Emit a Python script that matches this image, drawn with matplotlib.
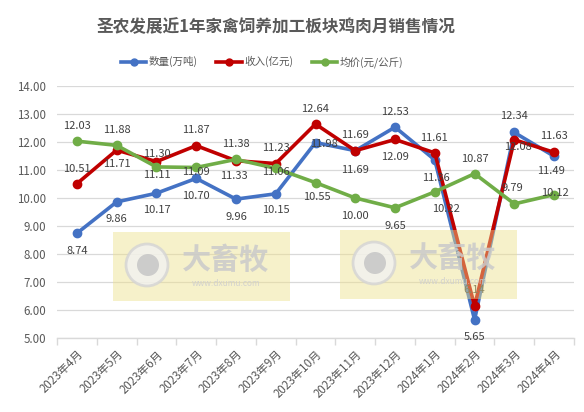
import matplotlib
matplotlib.use("Agg")
import matplotlib.pyplot as plt
from matplotlib.patches import Rectangle, Circle
from matplotlib.lines import Line2D

plt.rcParams['font.family'] = ['Noto Sans CJK SC', 'DejaVu Sans']

months = ["2023年4月", "2023年5月", "2023年6月", "2023年7月", "2023年8月", "2023年9月",
          "2023年10月", "2023年11月", "2023年12月", "2024年1月", "2024年2月", "2024年3月", "2024年4月"]
qty = [8.74, 9.86, 10.17, 10.70, 9.96, 10.15, 11.98, 11.69, 12.53, 11.36, 5.65, 12.34, 11.49]
revenue = [10.51, 11.71, 11.30, 11.87, 11.33, 11.23, 12.64, 11.69, 12.09, 11.61, 6.14, 12.08, 11.63]
price = [12.03, 11.88, 11.11, 11.09, 11.38, 11.06, 10.55, 10.00, 9.65, 10.22, 10.87, 9.79, 10.12]
names = ["数量(万吨)", "收入(亿元)", "均价(元/公斤)"]
colors = ["#4472C4", "#C00000", "#70AD47"]

# label offsets in pixels (dx, dy; dy positive = downward)
qty_off = [(0, 18), (0, 17), (0, 17), (0, 18), (0, 18), (0, 16), (8, 1), (0, 19), (0, -15),
           (1, 18), (0, 17), (0, -16), (-3, 15)]
rev_off = [(0, -15), (0, 14), (0, -8), (0, -16), (-2, 15), (0, -16), (0, -15), (0, -16), (0, 18),
           (-1, -15), (0, -16), (4, 7), (0, -16)]
pri_off = [(0, -15), (0, -15), (0, 8), (0, 5), (0, -15), (0, 4), (1, 14), (0, 18), (0, 18),
           (11, 17), (0, -15), (-2, -16), (1, -2)]

W, H = 584, 412
fig = plt.figure(figsize=(W / 100, H / 100), dpi=100)
ax = fig.add_axes([57 / W, 1 - 338 / H, (574 - 57) / W, (338 - 86) / H])

x = list(range(len(months)))
series = [qty, revenue, price]
offs = [qty_off, rev_off, pri_off]
for vals, col, nm in zip(series, colors, names):
    ax.plot(x, vals, color=col, lw=2.6, marker='o', ms=6, label=nm, zorder=3,
            solid_joinstyle='round')

for vals, off in zip(series, offs):
    for i, v in enumerate(vals):
        dx, dy = off[i]
        ax.annotate(f"{v:.2f}", (i, v), xytext=(dx * 0.72, -dy * 0.72), textcoords='offset points',
                    ha='center', va='center', fontsize=8, color='#404040', zorder=4)

ax.set_xlim(-0.5, len(months) - 0.5)
ax.set_ylim(5, 14)
ax.set_yticks(range(5, 15))
ax.set_yticklabels([f"{v:.2f}" for v in range(5, 15)])
ax.yaxis.grid(True, color='#D9D9D9', lw=0.9)
ax.set_axisbelow(True)
for s in ['left', 'right', 'top']:
    ax.spines[s].set_visible(False)
ax.spines['bottom'].set_color('#D9D9D9')
ax.spines['bottom'].set_linewidth(1.0)
ax.tick_params(axis='y', length=0, labelsize=8.3, labelcolor='#595959', pad=8)
ax.set_xticks(x)
ax.set_xticklabels(months, rotation=45, ha='right', rotation_mode='anchor', fontsize=8.3, color='#595959')
ax.tick_params(axis='x', which='major', length=0, pad=7)
ax.set_xticks([i - 0.5 for i in range(len(months) + 1)], minor=True)
ax.tick_params(axis='x', which='minor', length=5, color='#D9D9D9', width=1.0)

fig.text(276 / W, 1 - 27 / H, "圣农发展近1年家禽饲养加工板块鸡肉月销售情况", ha='center', va='center',
         fontsize=12, fontweight='bold', color='#595959')

handles = [Line2D([0], [0], color=c, lw=2.6, marker='o', ms=5) for c in colors]
fig.legend(handles, names, loc='center', bbox_to_anchor=(262 / W, 1 - 62 / H), ncol=3, frameon=False,
           fontsize=7.6, handlelength=2.4, handletextpad=0.2, columnspacing=1.8, labelcolor='#595959')

# watermarks
for (x0, y0) in [(113, 232), (340, 230)]:
    wm = fig.add_axes([x0 / W, 1 - (y0 + 69) / H, 177 / W, 69 / H])
    wm.set_xlim(0, 177)
    wm.set_ylim(69, 0)
    wm.axis('off')
    wm.set_zorder(10)
    wm.patch.set_alpha(0)
    wm.add_patch(Rectangle((0, 0), 177, 69, color='#EDE08A', alpha=0.45, lw=0))
    wm.add_patch(Circle((34, 33), 21, facecolor='#F2F2F2', edgecolor='#D4D4D4', lw=2, alpha=0.8))
    wm.add_patch(Circle((35, 33), 11, facecolor='#C8C8C8', edgecolor='none', alpha=0.9))
    wm.text(113, 28, "大畜牧", ha='center', va='center', fontsize=21, fontweight='bold', color='#CACACA', alpha=0.85)
    wm.text(113, 52, "www.dxumu.com", ha='center', va='center', fontsize=6, color='#CFCFCF', alpha=0.9)

fig.savefig("out.png", dpi=100)
